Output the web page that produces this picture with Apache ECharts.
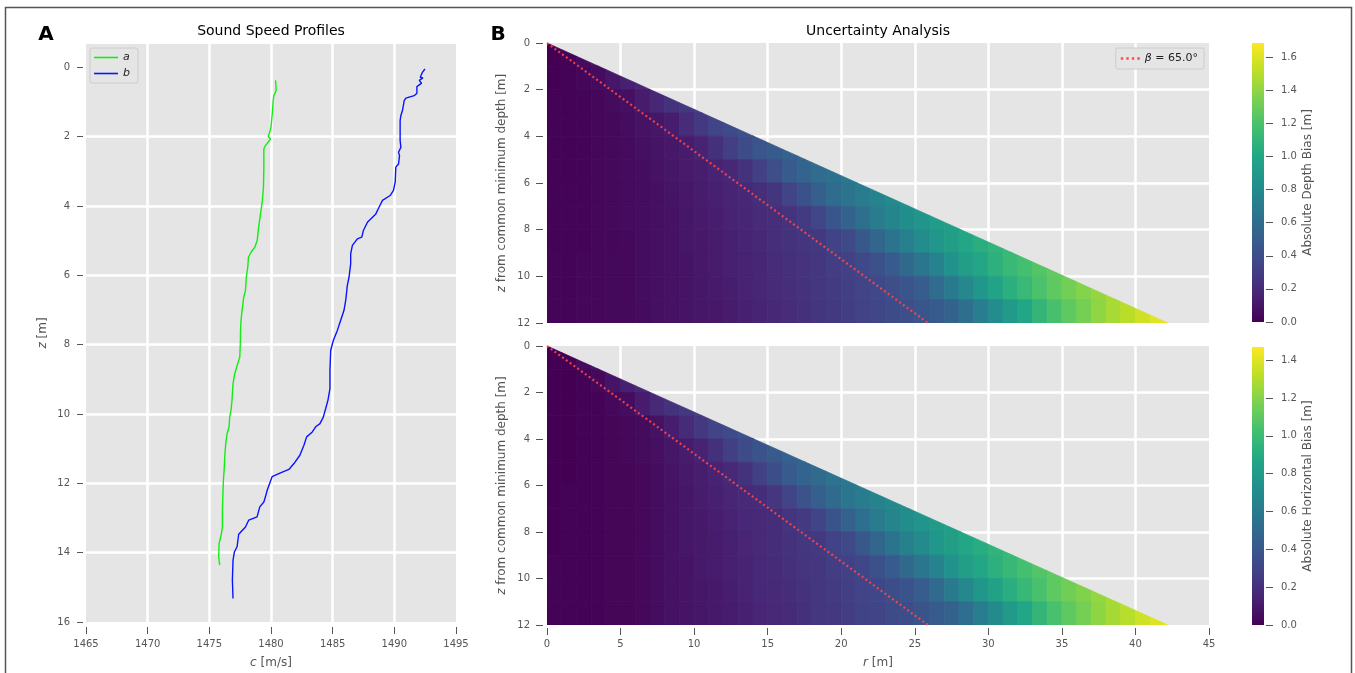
<!DOCTYPE html>
<html>
<head>
<meta charset="utf-8">
<title>Sound Speed Profiles / Uncertainty Analysis</title>
<script src="https://cdn.jsdelivr.net/npm/echarts@6/dist/echarts.min.js"></script>
<style>
  html, body { margin: 0; padding: 0; background: #fff; }
  #chart { width: 1355px; height: 673px; }
</style>
</head>
<body>
<div id="chart"></div>
<script>
// ---- panel A: sound speed profiles (depth [m], speed [m/s]) ----
const depthA = [0.38, 0.67, 0.82, 0.96, 1.34, 1.73, 1.87, 2.00, 2.07, 2.26, 2.35, 2.88, 3.46, 3.84, 4.23,
  4.61, 5.00, 5.19, 5.33, 5.48, 5.76, 6.05, 6.44, 6.63, 7.00, 7.30, 7.59, 7.88, 8.36, 8.55, 8.84, 9.13,
  9.60, 9.89, 10.09, 10.37, 10.57, 10.85, 11.24, 11.62, 11.91, 12.20, 12.78, 13.26, 13.45, 13.59, 13.74,
  14.12, 14.36];
const speedA = [1480.37, 1480.42, 1480.23, 1480.18, 1480.10, 1480.00, 1479.90, 1479.77, 1479.96, 1479.55,
  1479.42, 1479.42, 1479.39, 1479.30, 1479.15, 1479.00, 1478.88, 1478.69, 1478.39, 1478.17, 1478.12,
  1478.00, 1477.93, 1477.79, 1477.66, 1477.57, 1477.53, 1477.52, 1477.47, 1477.30, 1477.06, 1476.92,
  1476.84, 1476.76, 1476.65, 1476.60, 1476.44, 1476.33, 1476.25, 1476.20, 1476.14, 1476.11, 1476.06,
  1476.06, 1475.98, 1475.89, 1475.79, 1475.76, 1475.84];
const depthB = [0.05, 0.14, 0.29, 0.31, 0.38, 0.46, 0.56, 0.60, 0.75, 0.82, 0.89, 0.96, 1.25, 1.39, 1.54,
  2.11, 2.31, 2.45, 2.55, 2.79, 2.88, 3.31, 3.55, 3.70, 3.84, 4.03, 4.23, 4.47, 4.71, 4.90, 4.95, 5.14,
  5.38, 5.67, 6.05, 6.29, 6.72, 7.01, 7.30, 7.59, 7.88, 8.17, 8.74, 9.27, 9.60, 9.85, 10.09, 10.28, 10.37,
  10.52, 10.66, 10.90, 11.19, 11.43, 11.60, 11.70, 11.81, 12.20, 12.39, 12.54, 12.68, 12.97, 13.06, 13.26,
  13.47, 13.83, 13.98, 14.22, 14.79, 15.32];
const speedB = [1492.48, 1492.29, 1492.10, 1492.32, 1492.02, 1492.21, 1491.83, 1491.75, 1491.83, 1491.61,
  1490.93, 1490.80, 1490.66, 1490.53, 1490.47, 1490.47, 1490.53, 1490.34, 1490.42, 1490.34, 1490.12,
  1490.07, 1489.93, 1489.66, 1489.04, 1488.77, 1488.50, 1487.82, 1487.49, 1487.36, 1487.00, 1486.60,
  1486.46, 1486.46, 1486.33, 1486.19, 1486.06, 1485.92, 1485.65, 1485.38, 1485.05, 1484.84, 1484.78,
  1484.78, 1484.62, 1484.43, 1484.24, 1483.97, 1483.62, 1483.35, 1482.89, 1482.67, 1482.34, 1481.86,
  1481.45, 1480.77, 1480.09, 1479.69, 1479.55, 1479.42, 1479.09, 1478.87, 1478.20, 1477.93, 1477.38,
  1477.25, 1477.03, 1476.92, 1476.87, 1476.92];
const depthTicks = [0, 2, 4, 6, 8, 10, 12, 14, 16];

// ---- panel B: bias per cell, one row per 1 m of depth, one column per 1 m of range ----
const cellDr = 1;
const cellDz = 1;
const depthBiasRows = [
  [0.00, 0.01, 0.05, 0.09],
  [0.00, 0.01, 0.03, 0.05, 0.10, 0.15, 0.18],
  [0.01, 0.01, 0.02, 0.03, 0.05, 0.07, 0.13, 0.19, 0.24, 0.28, 0.31],
  [0.01, 0.01, 0.02, 0.03, 0.04, 0.06, 0.08, 0.10, 0.14, 0.21, 0.28, 0.34, 0.38, 0.41, 0.44],
  [0.01, 0.01, 0.02, 0.03, 0.04, 0.05, 0.07, 0.09, 0.11, 0.13, 0.16, 0.23, 0.31, 0.38, 0.44, 0.48, 0.52, 0.56],
  [0.01, 0.01, 0.02, 0.03, 0.04, 0.05, 0.06, 0.08, 0.10, 0.12, 0.14, 0.16, 0.19, 0.24, 0.32, 0.40, 0.48, 0.54,
    0.59, 0.63, 0.67, 0.70],
  [0.01, 0.02, 0.02, 0.03, 0.04, 0.05, 0.06, 0.07, 0.09, 0.11, 0.13, 0.15, 0.17, 0.19, 0.22, 0.26, 0.34, 0.42,
    0.51, 0.59, 0.65, 0.70, 0.75, 0.79, 0.83],
  [0.01, 0.02, 0.02, 0.03, 0.04, 0.05, 0.06, 0.07, 0.08, 0.10, 0.12, 0.14, 0.16, 0.18, 0.20, 0.22, 0.25, 0.29,
    0.35, 0.44, 0.53, 0.61, 0.70, 0.76, 0.82, 0.87, 0.92, 0.95, 0.99],
  [0.01, 0.02, 0.02, 0.03, 0.03, 0.04, 0.06, 0.07, 0.08, 0.10, 0.11, 0.13, 0.15, 0.17, 0.19, 0.22, 0.24, 0.26,
    0.28, 0.33, 0.37, 0.46, 0.55, 0.64, 0.73, 0.81, 0.88, 0.94, 1.00, 1.05, 1.09, 1.13],
  [0.02, 0.02, 0.03, 0.03, 0.04, 0.04, 0.06, 0.07, 0.08, 0.09, 0.11, 0.13, 0.15, 0.16, 0.18, 0.21, 0.23, 0.25,
    0.27, 0.30, 0.32, 0.36, 0.41, 0.48, 0.57, 0.66, 0.75, 0.85, 0.94, 1.00, 1.07, 1.13, 1.18, 1.23, 1.27, 1.30],
  [0.02, 0.02, 0.03, 0.03, 0.04, 0.04, 0.06, 0.07, 0.08, 0.09, 0.10, 0.12, 0.14, 0.16, 0.18, 0.20, 0.22, 0.24,
    0.27, 0.29, 0.31, 0.34, 0.36, 0.40, 0.44, 0.49, 0.59, 0.69, 0.78, 0.88, 0.97, 1.06, 1.13, 1.20, 1.26, 1.32,
    1.37, 1.41, 1.46],
  [0.02, 0.02, 0.03, 0.03, 0.04, 0.04, 0.05, 0.07, 0.08, 0.09, 0.10, 0.11, 0.13, 0.15, 0.17, 0.19, 0.21, 0.23,
    0.26, 0.28, 0.30, 0.33, 0.35, 0.38, 0.40, 0.44, 0.48, 0.53, 0.61, 0.71, 0.81, 0.91, 1.00, 1.10, 1.19, 1.26,
    1.33, 1.40, 1.46, 1.51, 1.56, 1.61, 1.65]
];
const horizBiasRows = [
  [0.00, 0.00, 0.04, 0.08],
  [0.00, 0.00, 0.01, 0.03, 0.08, 0.13, 0.16],
  [0.00, 0.00, 0.01, 0.01, 0.03, 0.05, 0.11, 0.17, 0.21, 0.24, 0.27],
  [0.00, 0.00, 0.01, 0.01, 0.02, 0.03, 0.04, 0.07, 0.12, 0.18, 0.24, 0.30, 0.33, 0.36, 0.38],
  [0.00, 0.00, 0.01, 0.01, 0.02, 0.03, 0.04, 0.06, 0.09, 0.11, 0.14, 0.20, 0.27, 0.33, 0.38, 0.42, 0.45, 0.49],
  [0.00, 0.00, 0.01, 0.01, 0.02, 0.02, 0.03, 0.05, 0.08, 0.10, 0.12, 0.14, 0.17, 0.21, 0.28, 0.35, 0.42, 0.47,
    0.51, 0.55, 0.58, 0.61],
  [0.00, 0.01, 0.01, 0.01, 0.02, 0.02, 0.03, 0.05, 0.07, 0.09, 0.11, 0.13, 0.15, 0.17, 0.19, 0.23, 0.30, 0.37,
    0.44, 0.51, 0.57, 0.61, 0.65, 0.69, 0.72],
  [0.00, 0.01, 0.01, 0.01, 0.02, 0.02, 0.03, 0.05, 0.07, 0.09, 0.10, 0.12, 0.14, 0.16, 0.17, 0.19, 0.22, 0.25,
    0.30, 0.38, 0.46, 0.53, 0.61, 0.66, 0.71, 0.76, 0.80, 0.83, 0.86],
  [0.00, 0.01, 0.01, 0.01, 0.02, 0.02, 0.03, 0.05, 0.07, 0.09, 0.10, 0.11, 0.13, 0.15, 0.17, 0.19, 0.21, 0.23,
    0.24, 0.29, 0.32, 0.40, 0.48, 0.56, 0.64, 0.70, 0.77, 0.82, 0.87, 0.91, 0.95, 0.98],
  [0.01, 0.01, 0.01, 0.01, 0.02, 0.02, 0.03, 0.05, 0.07, 0.08, 0.10, 0.11, 0.13, 0.14, 0.16, 0.18, 0.20, 0.22,
    0.23, 0.26, 0.28, 0.31, 0.36, 0.42, 0.50, 0.57, 0.65, 0.74, 0.82, 0.87, 0.93, 0.98, 1.03, 1.07, 1.10, 1.13],
  [0.01, 0.01, 0.01, 0.01, 0.02, 0.02, 0.03, 0.05, 0.07, 0.08, 0.09, 0.10, 0.12, 0.14, 0.16, 0.17, 0.19, 0.21,
    0.23, 0.25, 0.27, 0.30, 0.31, 0.35, 0.38, 0.43, 0.51, 0.60, 0.68, 0.77, 0.84, 0.92, 0.98, 1.04, 1.10, 1.15,
    1.19, 1.23, 1.27],
  [0.01, 0.01, 0.01, 0.01, 0.02, 0.02, 0.03, 0.05, 0.07, 0.08, 0.09, 0.10, 0.11, 0.13, 0.15, 0.17, 0.18, 0.20,
    0.23, 0.24, 0.26, 0.29, 0.30, 0.33, 0.35, 0.38, 0.42, 0.46, 0.53, 0.62, 0.70, 0.79, 0.87, 0.96, 1.04, 1.10,
    1.16, 1.22, 1.27, 1.31, 1.36, 1.40, 1.44]
];
const depthBiasMax = 1.685;
const horizBiasMax = 1.47;
const depthBiasTicks = [0, 0.2, 0.4, 0.6, 0.8, 1.0, 1.2, 1.4, 1.6];
const horizBiasTicks = [0, 0.2, 0.4, 0.6, 0.8, 1.0, 1.2, 1.4];
const wedgeEdge = [42.2, 12];            // outer edge of the swath: r reached at z = 12
const betaLine = [[0, 0], [25.9, 12]];    // beta = 65 deg

const viridis = ['#440154', '#482475', '#414487', '#355f8d', '#2a788e', '#21918c',
  '#22a884', '#44bf70', '#7ad151', '#bddf26', '#fde725'];

const font = 'DejaVu Sans';
const tickGrey = '#555555';

function toPairs(xs, ys) {
  return xs.map((x, i) => [x, ys[i]]);
}

function toCells(rows) {
  const out = [];
  rows.forEach((row, k) => {
    row.forEach((v, j) => {
      out.push([j * cellDr, (j + 1) * cellDr, k * cellDz, (k + 1) * cellDz, v]);
    });
  });
  return out;
}

// keep only the part of a cell inside the swath (r <= slope * z)
const edgeSlope = wedgeEdge[0] / wedgeEdge[1];
function clipToWedge(poly) {
  const out = [];
  const f = p => p[0] - edgeSlope * p[1];
  for (let i = 0; i < poly.length; i++) {
    const a = poly[i], b = poly[(i + 1) % poly.length];
    const fa = f(a), fb = f(b);
    if (fa <= 0) out.push(a);
    if ((fa <= 0) !== (fb <= 0)) {
      const t = fa / (fa - fb);
      out.push([a[0] + t * (b[0] - a[0]), a[1] + t * (b[1] - a[1])]);
    }
  }
  return out;
}

function renderCell(params, api) {
  const r0 = api.value(0), r1 = api.value(1), z0 = api.value(2), z1 = api.value(3);
  const poly = clipToWedge([[r0, z0], [r1, z0], [r1, z1], [r0, z1]]);
  if (poly.length < 3) return null;
  const color = api.visual('color');
  return {
    type: 'polygon',
    shape: { points: poly.map(p => api.coord(p)) },
    style: { fill: color, stroke: color, lineWidth: 0.8 }
  };
}

function renderColorbar(params, api) {
  const p0 = api.coord([0, 0]);
  const p1 = api.coord([1, api.value(1)]);
  return {
    type: 'rect',
    shape: { x: p0[0], y: p1[1], width: p1[0] - p0[0], height: p0[1] - p1[1] },
    style: {
      fill: new echarts.graphic.LinearGradient(0, 1, 0, 0,
        viridis.map((c, i) => ({ offset: i / (viridis.length - 1), color: c })))
    }
  };
}

const nameStyle = {
  color: tickGrey, fontSize: 12, fontFamily: font,
  rich: { i: { fontStyle: 'italic', color: tickGrey, fontSize: 12, fontFamily: font } }
};
const white = { lineStyle: { color: '#ffffff', width: 2.5 }, showMinLine: false, showMaxLine: false };
const labelStyle = { color: tickGrey, fontSize: 10, fontFamily: font };
const noLine = { show: false, onZero: false };

const gridBase = { show: true, backgroundColor: '#e5e5e5', borderWidth: 0, outerBoundsMode: 'none' };

const option = {
  animation: false,
  textStyle: { fontFamily: font },
  grid: [
    Object.assign({ left: 86, top: 44, width: 370, height: 578 }, gridBase),
    Object.assign({ left: 547, top: 43, width: 662, height: 280 }, gridBase),
    Object.assign({ left: 547, top: 346, width: 662, height: 279 }, gridBase),
    { left: 1252, top: 43, width: 12, height: 279, show: false, outerBoundsMode: 'none' },
    { left: 1252, top: 347, width: 12, height: 278, show: false, outerBoundsMode: 'none' }
  ],
  xAxis: [
    {
      gridIndex: 0, type: 'value', min: 1465, max: 1495, interval: 5, offset: 5,
      name: '{i|c} [m/s]', nameLocation: 'middle', nameGap: 30, nameTextStyle: nameStyle,
      axisLine: noLine,
      axisTick: { show: true, length: 7, lineStyle: { color: tickGrey } },
      axisLabel: Object.assign({ margin: 12, formatter: v => String(v) }, labelStyle),
      splitLine: white
    },
    {
      gridIndex: 1, type: 'value', min: 0, max: 45, interval: 5,
      axisLine: noLine, axisTick: { show: false }, axisLabel: { show: false },
      splitLine: white
    },
    {
      gridIndex: 2, type: 'value', min: 0, max: 45, interval: 5, offset: 3,
      name: '{i|r} [m]', nameLocation: 'middle', nameGap: 29, nameTextStyle: nameStyle,
      axisLine: noLine,
      axisTick: { show: true, length: 7, lineStyle: { color: tickGrey } },
      axisLabel: Object.assign({ margin: 11 }, labelStyle),
      splitLine: white
    },
    { gridIndex: 3, type: 'value', min: 0, max: 1, show: false },
    { gridIndex: 4, type: 'value', min: 0, max: 1, show: false }
  ],
  yAxis: [
    {
      gridIndex: 0, type: 'value', inverse: true, min: -0.67, max: 16, offset: 3,
      name: '{i|z} [m]', nameLocation: 'middle', nameRotate: 90, nameGap: 34, nameTextStyle: nameStyle,
      axisLine: noLine,
      axisTick: { show: true, length: 6, customValues: depthTicks, lineStyle: { color: tickGrey } },
      axisLabel: Object.assign({ margin: 13, customValues: depthTicks }, labelStyle),
      splitLine: white
    },
    {
      gridIndex: 1, type: 'value', inverse: true, min: 0, max: 12, interval: 2, offset: 4,
      name: '{i|z} from common minimum depth [m]', nameLocation: 'middle', nameRotate: 90, nameGap: 35,
      nameTextStyle: nameStyle,
      axisLine: noLine,
      axisTick: { show: true, length: 7, lineStyle: { color: tickGrey } },
      axisLabel: Object.assign({ margin: 13 }, labelStyle),
      splitLine: white
    },
    {
      gridIndex: 2, type: 'value', inverse: true, min: 0, max: 12, interval: 2, offset: 4,
      name: '{i|z} from common minimum depth [m]', nameLocation: 'middle', nameRotate: 90, nameGap: 35,
      nameTextStyle: nameStyle,
      axisLine: noLine,
      axisTick: { show: true, length: 7, lineStyle: { color: tickGrey } },
      axisLabel: Object.assign({ margin: 13 }, labelStyle),
      splitLine: white
    },
    {
      gridIndex: 3, type: 'value', position: 'right', min: 0, max: depthBiasMax, offset: 2,
      name: 'Absolute Depth Bias [m]', nameLocation: 'middle', nameRotate: 90, nameGap: 36,
      nameTextStyle: nameStyle,
      axisLine: noLine,
      axisTick: { show: true, length: 7, customValues: depthBiasTicks, lineStyle: { color: tickGrey } },
      axisLabel: Object.assign({ margin: 15, customValues: depthBiasTicks, formatter: v => v.toFixed(1) }, labelStyle),
      splitLine: { show: false }
    },
    {
      gridIndex: 4, type: 'value', position: 'right', min: 0, max: horizBiasMax, offset: 2,
      name: 'Absolute Horizontal Bias [m]', nameLocation: 'middle', nameRotate: 90, nameGap: 36,
      nameTextStyle: nameStyle,
      axisLine: noLine,
      axisTick: { show: true, length: 7, customValues: horizBiasTicks, lineStyle: { color: tickGrey } },
      axisLabel: Object.assign({ margin: 15, customValues: horizBiasTicks, formatter: v => v.toFixed(1) }, labelStyle),
      splitLine: { show: false }
    }
  ],
  visualMap: [
    { type: 'continuous', show: false, seriesIndex: 2, dimension: 4, min: 0, max: depthBiasMax, inRange: { color: viridis } },
    { type: 'continuous', show: false, seriesIndex: 4, dimension: 4, min: 0, max: horizBiasMax, inRange: { color: viridis } }
  ],
  legend: [
    {
      data: [{ name: 'a', icon: 'rect' }, { name: 'b', icon: 'rect' }],
      orient: 'vertical', left: 90, top: 48, itemWidth: 24, itemHeight: 1.6, itemGap: 5,
      padding: [4, 8, 4, 4], backgroundColor: '#e5e5e5', borderColor: '#cccccc', borderWidth: 1, borderRadius: 2,
      textStyle: { fontStyle: 'italic', fontSize: 11, color: '#222', fontFamily: font }
    },
    {
      data: [{ name: 'β = 65.0°', icon: 'path://M0,0h2v2h-2zM4.6,0h2v2h-2zM9.2,0h2v2h-2zM13.8,0h2v2h-2z' }],
      right: 151, top: 48, itemWidth: 19, itemHeight: 2.4,
      padding: [5, 6, 5, 5], backgroundColor: '#e5e5e5', borderColor: '#cccccc', borderWidth: 1, borderRadius: 2,
      formatter: () => '{i|β} = 65.0°',
      textStyle: {
        fontSize: 11, color: '#222', fontFamily: font,
        rich: { i: { fontStyle: 'italic', fontSize: 11, color: '#222', fontFamily: font } }
      }
    }
  ],
  series: [
    {
      name: 'a', type: 'line', xAxisIndex: 0, yAxisIndex: 0, color: '#11ee11',
      data: toPairs(speedA, depthA), symbol: 'none', lineStyle: { width: 1.4 }, z: 3
    },
    {
      name: 'b', type: 'line', xAxisIndex: 0, yAxisIndex: 0, color: '#0a14ff',
      data: toPairs(speedB, depthB), symbol: 'none', lineStyle: { width: 1.4 }, z: 3
    },
    {
      name: 'depthBias', type: 'custom', xAxisIndex: 1, yAxisIndex: 1, silent: true, clip: true,
      encode: { x: [0, 1], y: [2, 3] }, renderItem: renderCell, data: toCells(depthBiasRows)
    },
    {
      name: 'β = 65.0°', type: 'line', xAxisIndex: 1, yAxisIndex: 1, color: '#ff4a4a',
      data: betaLine, symbol: 'none', lineStyle: { width: 2.2, type: [2, 2.7], color: 'rgba(255,70,70,0.9)' }, z: 5
    },
    {
      name: 'horizBias', type: 'custom', xAxisIndex: 2, yAxisIndex: 2, silent: true, clip: true,
      encode: { x: [0, 1], y: [2, 3] }, renderItem: renderCell, data: toCells(horizBiasRows)
    },
    {
      name: 'β = 65.0°', type: 'line', xAxisIndex: 2, yAxisIndex: 2, color: '#ff4a4a',
      data: betaLine, symbol: 'none', lineStyle: { width: 2.2, type: [2, 2.7], color: 'rgba(255,70,70,0.9)' }, z: 5
    },
    {
      name: 'depthBar', type: 'custom', xAxisIndex: 3, yAxisIndex: 3, silent: true,
      encode: { x: 0, y: 1 }, renderItem: renderColorbar, data: [[0, depthBiasMax]]
    },
    {
      name: 'horizBar', type: 'custom', xAxisIndex: 4, yAxisIndex: 4, silent: true,
      encode: { x: 0, y: 1 }, renderItem: renderColorbar, data: [[0, horizBiasMax]]
    }
  ],
  graphic: [
    {
      type: 'rect', silent: true, shape: { x: 5.5, y: 7.5, width: 1346, height: 700 },
      style: { fill: 'none', stroke: '#555555', lineWidth: 1.5 }
    },
    {
      type: 'text', x: 271, y: 31,
      style: { text: 'Sound Speed Profiles', fill: '#000', fontSize: 14, fontFamily: font,
        textAlign: 'center', textVerticalAlign: 'middle', align: 'center', verticalAlign: 'middle' }
    },
    {
      type: 'text', x: 878, y: 31,
      style: { text: 'Uncertainty Analysis', fill: '#000', fontSize: 14, fontFamily: font,
        textAlign: 'center', textVerticalAlign: 'middle', align: 'center', verticalAlign: 'middle' }
    },
    {
      type: 'text', x: 46, y: 35,
      style: { text: 'A', fill: '#000', fontSize: 20, fontWeight: 'bold', fontFamily: font,
        textAlign: 'center', textVerticalAlign: 'middle', align: 'center', verticalAlign: 'middle' }
    },
    {
      type: 'text', x: 498, y: 35,
      style: { text: 'B', fill: '#000', fontSize: 20, fontWeight: 'bold', fontFamily: font,
        textAlign: 'center', textVerticalAlign: 'middle', align: 'center', verticalAlign: 'middle' }
    }
  ]
};

const myChart = echarts.init(document.getElementById('chart'));
myChart.setOption(option);
</script>
</body>
</html>
